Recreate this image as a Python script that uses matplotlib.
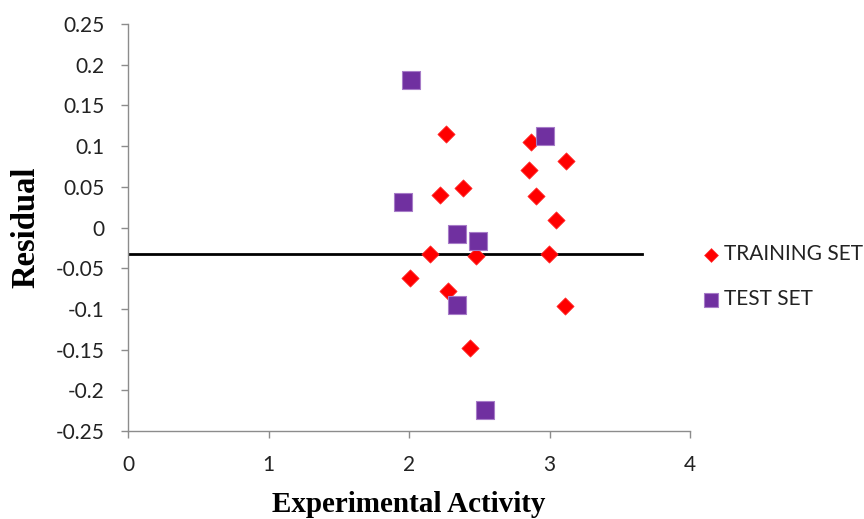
import matplotlib
matplotlib.use("Agg")
import matplotlib.pyplot as plt

train_x = [2.263, 2.868, 3.117, 2.854, 2.384, 2.221, 2.904, 3.046, 2.149, 2.477, 2.996, 2.007, 2.278, 3.110, 2.434]
train_y = [0.115, 0.105, 0.082, 0.071, 0.0485, 0.040, 0.039, 0.009, -0.0326, -0.035, -0.033, -0.062, -0.078, -0.096, -0.148]

test_x = [2.014, 2.968, 1.957, 2.342, 2.491, 2.342, 2.541]
test_y = [0.181, 0.112, 0.031, -0.008, -0.0166, -0.0952, -0.224]

line_x = [0, 3.66]
line_y = [-0.033, -0.033]

xticks = [0, 1, 2, 3, 4]
yticks = [0.25, 0.2, 0.15, 0.1, 0.05, 0, -0.05, -0.1, -0.15, -0.2, -0.25]
ytick_labels = ["0.25", "0.2", "0.15", "0.1", "0.05", "0", "-0.05", "-0.1", "-0.15", "-0.2", "-0.25"]

fig = plt.figure(figsize=(8.64, 5.19), dpi=100)
ax = fig.add_axes([128/864, 1-431/519, (690-128)/864, (431-24)/519])

ax.plot(line_x, line_y, color="black", lw=2.0, zorder=2)
ax.scatter(train_x, train_y, marker="D", s=8.8**2, color="#FF0000", edgecolors="#FF3030",
           linewidths=0.5, label="TRAINING SET", zorder=3)
ax.scatter(test_x, test_y, marker="s", s=13**2, color="#7030A0", edgecolors="#A77CC8",
           linewidths=0.8, label="TEST SET", zorder=4)

ax.set_xlim(0, 4)
ax.set_ylim(-0.25, 0.25)
ax.set_xticks(xticks)
ax.set_yticks(yticks)
ax.set_yticklabels(ytick_labels)

for s in ["top", "right"]:
    ax.spines[s].set_visible(False)
for s in ["left", "bottom"]:
    ax.spines[s].set_color("#8C8C8C")
    ax.spines[s].set_linewidth(1.0)
ax.tick_params(axis="both", direction="out", length=5, width=1.0, color="#8C8C8C",
               labelsize=15, labelcolor="#222222")
for lab in ax.get_xticklabels() + ax.get_yticklabels():
    lab.set_family("Lato")
ax.tick_params(axis="x", pad=12)
ax.tick_params(axis="y", pad=12)

ax.set_xlabel("Experimental Activity", family="Liberation Serif", fontweight="bold",
              fontsize=21, labelpad=12)
ax.set_ylabel("Residual", family="Liberation Serif", fontweight="bold", fontsize=23.5, labelpad=10)

leg = ax.legend(loc="center left", bbox_to_anchor=(0.986, 0.379), frameon=False,
                prop={"family": "Lato", "size": 15}, handletextpad=0.1,
                labelspacing=1.2, handlelength=1.0, markerscale=0.8)
for t in leg.get_texts():
    t.set_color("#222222")

fig.savefig("out.png", dpi=100)
